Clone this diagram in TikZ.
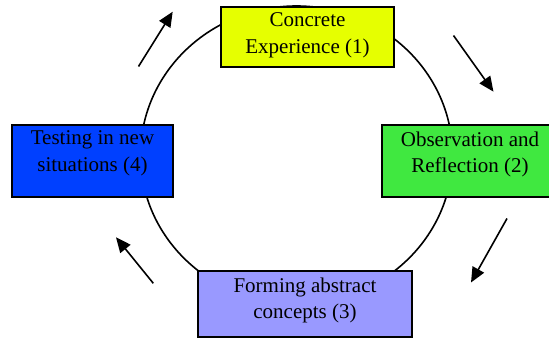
\documentclass[tikz,border=0pt]{standalone}
\usepackage{fontspec}
\setmainfont{Liberation Serif}
\newfontfamily\stagefont{Liberation Serif}
\usetikzlibrary{arrows.meta}
\definecolor{ceyellow}{RGB}{230,255,0}
\definecolor{orgreen}{RGB}{64,232,64}
\definecolor{tnblue}{RGB}{0,64,255}
\definecolor{faviolet}{RGB}{153,153,255}
\begin{document}
\begin{tikzpicture}[x=1pt,y=-1pt,
  stage/.style={draw=black, line width=1.8pt, inner sep=0pt},
  caption/.style={anchor=north, inner sep=0pt, align=center,
    font=\stagefont\fontsize{21}{26.5}\selectfont},
  cycleline/.style={line width=1.6pt},
  flow/.style={line width=1.6pt, -{Triangle[length=15pt,width=13pt]}}]
\useasboundingbox (0,0) rectangle (549,339);

% the learning cycle
\draw[cycleline] (296.5,155) ellipse [x radius=156pt, y radius=149pt];

% the four stages
\node[stage, fill=ceyellow, minimum width=173pt, minimum height=60pt] (ce) at (307.5,37) {};
\node[stage, fill=orgreen, minimum width=176pt, minimum height=72pt] (or) at (470,161) {};
\node[stage, fill=faviolet, minimum width=214pt, minimum height=66pt] (fa) at (305,304) {};
\node[stage, fill=tnblue, minimum width=161pt, minimum height=72pt] (tn) at (92.5,161) {};

\node[caption] (ce-t) at (307.5,12.7) {Concrete\\Experience (1)};
\node[caption] (or-t) at (470,131.5) {Observation and\\Reflection (2)};
\node[caption] (fa-t) at (305,277.5) {Forming abstract\\concepts (3)};
\node[caption] (tn-t) at (92.5,130.7) {Testing in new\\situations (4)};

% direction of the cycle
\coordinate (a1s) at (138.5,66.5);
\coordinate (a1e) at (172.7,11.7);
\coordinate (a2s) at (453.5,35.5);
\coordinate (a2e) at (493.5,91.7);
\coordinate (a3s) at (507,218.5);
\coordinate (a3e) at (471,282.5);
\coordinate (a4s) at (153.3,283.3);
\coordinate (a4e) at (116,237.3);
\draw[flow] (a1s) -- (a1e);
\draw[flow] (a2s) -- (a2e);
\draw[flow] (a3s) -- (a3e);
\draw[flow] (a4s) -- (a4e);
\end{tikzpicture}
\end{document}
